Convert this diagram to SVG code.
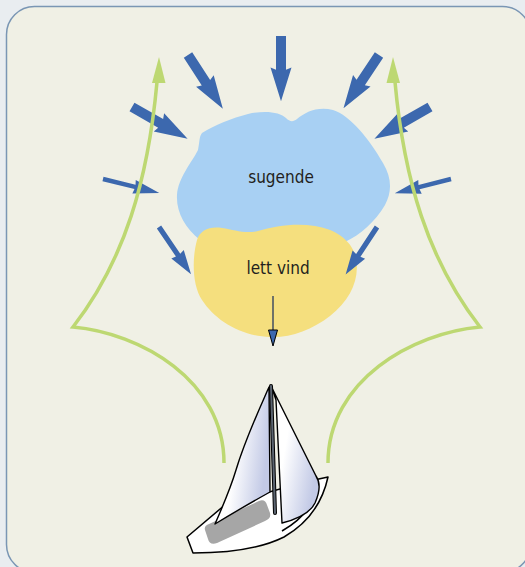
<svg xmlns="http://www.w3.org/2000/svg" width="525" height="567" viewBox="0 0 525 567">
  <style>
    .wind { fill: #3c68ae; }
    .track { fill: none; stroke: #bdd872; stroke-width: 3.5; stroke-linejoin: miter; }
    .tip { fill: #bdd872; }
    .label { font-family: "Liberation Sans Narrow", "DejaVu Sans Condensed", "Liberation Sans", sans-serif; font-size: 17px; fill: #231f20; text-anchor: middle; }
    .line { fill: none; stroke: #000; stroke-width: 1.6; stroke-linejoin: round; }
  </style>
  <defs>
    <!-- fat wind arrow, pointing along +x, length 64 -->
    <polygon id="fat" points="0,-5 33,-5 31,-10.5 64,0 31,10.5 33,5 0,5"/>
    <!-- slim wind arrows -->
    <polygon id="slim" points="0,-2.2 33,-2.2 32,-7 58,0 32,7 33,2.2 0,2.2"/>
    <polygon id="slim2" points="0,-2.6 34,-2.6 33,-7.5 57,0 33,7.5 34,2.6 0,2.6"/>
    <linearGradient id="sailL" x1="0" y1="0" x2="1" y2="0.3">
      <stop offset="0.45" stop-color="#ffffff"/>
      <stop offset="1" stop-color="#c3cae6"/>
    </linearGradient>
    <linearGradient id="sailR" x1="0" y1="0" x2="1" y2="0.5">
      <stop offset="0.4" stop-color="#ffffff"/>
      <stop offset="1" stop-color="#c3cae6"/>
    </linearGradient>
  </defs>

  <!-- page background and panel -->
  <rect x="0" y="0" width="525" height="567" fill="#e9edf0"/>
  <rect x="6.5" y="6.5" width="524" height="566" rx="28" ry="28" fill="#f0f0e5" stroke="#7a96b4" stroke-width="1.5"/>

  <!-- low pressure / light wind areas -->
  <g id="sugende">
    <path fill="#a8d0f3" d="M 202,133 C 215,125 232,118 248,114 C 265,110 280,112 286,118 C 290,122 293,122 297,119 C 305,112 318,106 333,110 C 350,115 370,140 383,163 C 392,178 392,192 385,205 C 375,222 360,235 345,242 L 200,240 C 185,228 176,212 177,195 C 178,178 192,162 198,150 C 200,140 199,137 202,133 Z"/>
    <text class="label" x="281" y="183">sugende</text>
  </g>
  <g id="lett-vind">
    <path fill="#f5df7e" d="M 197,240 C 200,230 210,226 222,228 C 235,230 245,234 258,231 C 275,226 295,223 315,226 C 335,229 352,240 356,258 C 360,280 350,300 330,316 C 312,330 290,338 270,337 C 240,336 215,320 202,300 C 192,285 192,258 197,240 Z"/>
    <text class="label" x="278" y="274">lett vind</text>
  </g>

  <!-- connectors: inflowing wind, outflow, sailing tracks -->
  <g id="connectors">
    <use href="#fat" class="wind" transform="translate(281,36) rotate(90) scale(1.02,1)"/>
    <use href="#fat" class="wind" transform="translate(188,55) rotate(57)"/>
    <use href="#fat" class="wind" transform="translate(379,55) rotate(123.7)"/>
    <use href="#fat" class="wind" transform="translate(132,107) rotate(29.7)"/>
    <use href="#fat" class="wind" transform="translate(430,107) rotate(150.3)"/>
    <use href="#slim" class="wind" transform="translate(103,179) rotate(14)"/>
    <use href="#slim" class="wind" transform="translate(451,179) rotate(165.7)"/>
    <use href="#slim2" class="wind" transform="translate(159,227) rotate(55.8)"/>
    <use href="#slim2" class="wind" transform="translate(377,227) rotate(123.4)"/>

    <line x1="273" y1="296" x2="273" y2="332" stroke="#26385c" stroke-width="1.3"/>
    <polygon points="268.5,330 277.5,330 273,346" fill="#3c68ae" stroke="#000" stroke-width="1"/>

    <path class="track" d="M 157,82 C 148,180 125,260 73,327 C 140,333 224,380 224,463"/>
    <polygon class="tip" points="159,57 152,83 165.5,83"/>
    <path class="track" d="M 395,82 C 404,180 428,260 480,327 C 413,333 328,380 328,463"/>
    <polygon class="tip" points="393,57 386.5,83 400,83"/>
  </g>

  <!-- sailing boat -->
  <g id="boat">
    <path d="M 187,537 L 226,504 L 305,482 L 328,477 C 323,500 310,522 284,537 C 258,550 226,553 193,553 Z" fill="#ffffff" stroke="#000" stroke-width="1.5" stroke-linejoin="round"/>
    <path class="line" stroke-width="0.9" d="M 318,481 C 316,500 305,518 282,531"/>
    <path d="M 209,524 L 259,501 C 263,499 266,501 267,505 L 270,513 C 271,517 269,519 265,521 L 217,543 C 212,545 209,543 208,539 L 205,530 C 204,527 206,525 209,524 Z" fill="#a6a6a6"/>
    <path d="M 269,387 C 258,412 245,440 236,470 C 230,490 222,508 215,524 C 233,513 252,502 270,492 Z" fill="url(#sailL)" stroke="#000" stroke-width="1.4" stroke-linejoin="round"/>
    <path d="M 272,388 L 316,476 C 320,482 320,492 315,503 C 310,513 298,519 282,523 L 276,400 Z" fill="url(#sailR)" stroke="#000" stroke-width="1.4" stroke-linejoin="round"/>
    <path d="M 271,386 L 275,513" stroke="#000" stroke-width="4" stroke-linecap="round"/>
    <path d="M 271,386 L 275,513" stroke="#5b6470" stroke-width="2" stroke-linecap="round"/>
  </g>
</svg>
